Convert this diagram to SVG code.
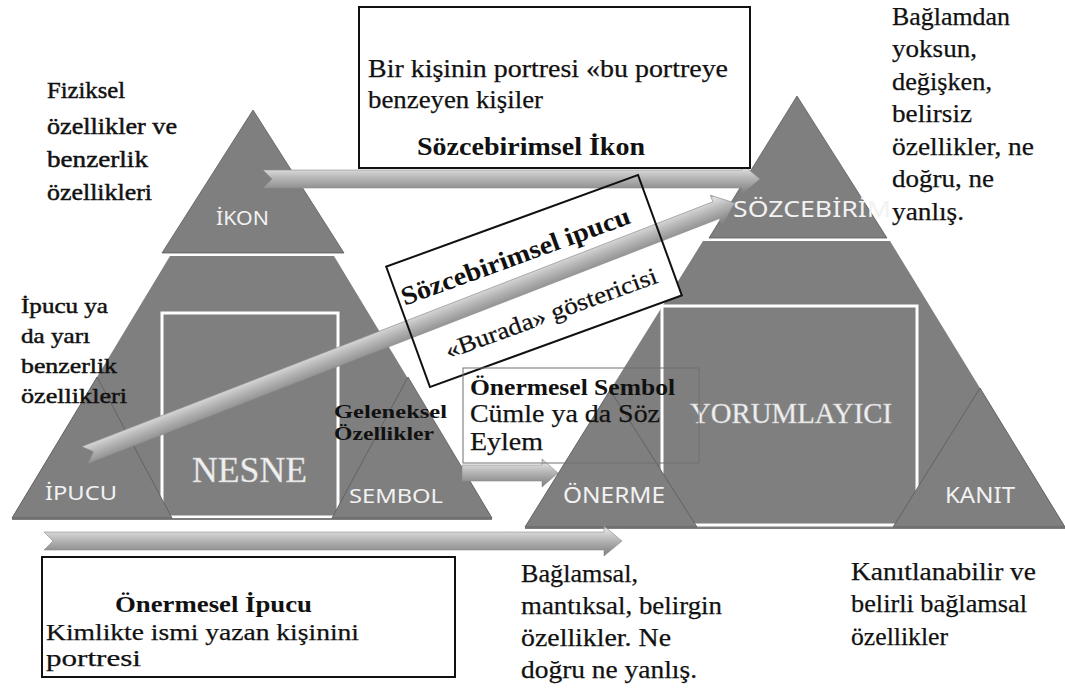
<svg xmlns="http://www.w3.org/2000/svg" width="1065" height="693" viewBox="0 0 1065 693">
<defs>
<linearGradient id="arrowGrad" x1="0" y1="0" x2="0" y2="1">
<stop offset="0" stop-color="#9a9a9a"/>
<stop offset="0.12" stop-color="#e2e2e2"/>
<stop offset="0.45" stop-color="#b8b8b8"/>
<stop offset="1" stop-color="#7c7c7c"/>
</linearGradient>
<style>
.seg{fill:#7f7f7f;stroke:#5c5c5c;stroke-width:0.8}
.base{fill:#7f7f7f;stroke:none}
.inner{fill:none;stroke:#ffffff;stroke-width:3}
.shadow{stroke:#555555;stroke-width:1.5}
.lab{fill:#f2f2f2}
.big{fill:#f0f0f0;stroke:#cfcfcf;stroke-width:0.4}
.txt{fill:#111111;stroke:#111111;stroke-width:0.25}
.hv{fill:#111111;stroke:#111111;stroke-width:0.45}
.bold{fill:#111111;font-weight:bold}
.box{fill:#ffffff;stroke:#111111;stroke-width:2}
.thin{fill:none;stroke:#707070;stroke-width:1}
.arrow{fill:url(#arrowGrad);stroke:#8a8a8a;stroke-width:0.6}
</style>
</defs>
<rect x="0" y="0" width="1065" height="693" fill="#ffffff"/>

<!-- left pyramid -->
<g id="node-nesne">
<polygon class="base" points="170,256 334,256 492,518 12,518"/>
<rect class="inner" x="162" y="313" width="176" height="204"/>
<line class="shadow" x1="12" y1="519" x2="492" y2="519"/>
<text class="big" font-family="Liberation Serif, Times New Roman, serif" x="192" y="482" font-size="36" textLength="115" lengthAdjust="spacingAndGlyphs">NESNE</text>
</g>
<g id="node-ikon" font-family="Noto Sans, Open Sans, sans-serif" font-size="20">
<polygon class="seg" points="253,110 344,253 162,253"/>
<text class="lab" x="216" y="225" textLength="53" lengthAdjust="spacingAndGlyphs">İKON</text>
</g>
<g id="node-ipucu" font-family="Noto Sans, Open Sans, sans-serif" font-size="20">
<polygon class="seg" points="97,377 172,518 12,518"/>
<text class="lab" x="45" y="500" textLength="72" lengthAdjust="spacingAndGlyphs">İPUCU</text>
</g>
<g id="node-sembol" font-family="Noto Sans, Open Sans, sans-serif" font-size="20">
<polygon class="seg" points="408,377 492,518 332,518"/>
<text class="lab" x="349" y="503" textLength="94" lengthAdjust="spacingAndGlyphs">SEMBOL</text>
</g>

<!-- right pyramid -->
<g id="node-yorumlayici">
<polygon class="base" points="703,241 890,241 1065,527 525,527"/>
<rect class="inner" x="662" y="306" width="255" height="219"/>
<line class="shadow" x1="525" y1="528" x2="1065" y2="528"/>
<text class="big" font-family="Liberation Serif, Times New Roman, serif" x="690" y="423" font-size="29" textLength="202" lengthAdjust="spacingAndGlyphs">YORUMLAYICI</text>
</g>
<g id="node-sozcebirim" font-family="Noto Sans, Open Sans, sans-serif" font-size="22">
<polygon class="seg" points="797,96 887,238 709,238"/>
<text class="lab" x="733" y="217" textLength="158" lengthAdjust="spacingAndGlyphs">SÖZCEBİRİM</text>
</g>
<g id="node-onerme" font-family="Noto Sans, Open Sans, sans-serif" font-size="22">
<polygon class="seg" points="610,390 697,527 525,527"/>
<text class="lab" x="563" y="503" textLength="102" lengthAdjust="spacingAndGlyphs">ÖNERME</text>
</g>
<g id="node-kanit" font-family="Noto Sans, Open Sans, sans-serif" font-size="22">
<polygon class="seg" points="980,388 1065,527 893,527"/>
<text class="lab" x="945" y="503" textLength="70" lengthAdjust="spacingAndGlyphs">KANIT</text>
</g>

<!-- rotated box background -->
<g id="node-sozcebirimsel-ipucu-bg">
<rect x="-134" y="-64" width="268" height="128" fill="#ffffff" transform="translate(534,281) rotate(-20)"/>
</g>

<!-- connectors -->
<g id="connectors">
<path class="arrow" transform="translate(263,179)" d="M0,-9 H479 V-15 L497,0 L479,15 V9 H0 L9,0 Z"/>
<path class="arrow" transform="translate(85,455) rotate(-21.2)" d="M0,-9 H677 V-16 L697,0 L677,16 V9 H0 L9,0 Z"/>
<path class="arrow" transform="translate(462,473)" d="M0,-8 H80 V-14 L96,0 L80,14 V8 H0 Z"/>
<path class="arrow" transform="translate(44,541)" d="M0,-9 H560 V-15 L578,0 L560,15 V9 H0 L9,0 Z"/>
</g>

<!-- boxes -->
<g id="node-sozcebirimsel-ikon" font-family="Liberation Serif, Times New Roman, serif">
<rect class="box" x="359" y="7" width="391" height="161"/>
<text class="txt" x="368" y="77" font-size="25" textLength="360" lengthAdjust="spacingAndGlyphs">Bir kişinin portresi «bu portreye</text>
<text class="txt" x="368" y="108" font-size="25" textLength="175" lengthAdjust="spacingAndGlyphs">benzeyen kişiler</text>
<text class="bold" x="417" y="155" font-size="25" textLength="228" lengthAdjust="spacingAndGlyphs">Sözcebirimsel İkon</text>
</g>

<g id="node-sozcebirimsel-ipucu" transform="translate(534,281) rotate(-20)" font-family="Liberation Serif, Times New Roman, serif">
<rect x="-134" y="-64" width="268" height="128" fill="none" stroke="#111111" stroke-width="2"/>
<text class="bold" x="-9" y="-21" font-size="26" text-anchor="middle" textLength="242" lengthAdjust="spacingAndGlyphs">Sözcebirimsel ipucu</text>
<text class="txt" x="5" y="44" font-size="24" text-anchor="middle" textLength="224" lengthAdjust="spacingAndGlyphs">«Burada» göstericisi</text>
</g>

<g id="node-onermesel-sembol" font-family="Liberation Serif, Times New Roman, serif">
<rect class="thin" x="463" y="368" width="236" height="95"/>
<text class="bold" x="470" y="395" font-size="23" textLength="205" lengthAdjust="spacingAndGlyphs">Önermesel Sembol</text>
<text class="txt" x="470" y="422" font-size="26" textLength="190" lengthAdjust="spacingAndGlyphs">Cümle ya da Söz</text>
<text class="txt" x="470" y="450" font-size="26" textLength="73" lengthAdjust="spacingAndGlyphs">Eylem</text>
</g>

<g id="node-onermesel-ipucu" font-family="Liberation Serif, Times New Roman, serif">
<rect class="box" x="42" y="557" width="413" height="120"/>
<text class="bold" x="115" y="612" font-size="24" textLength="197" lengthAdjust="spacingAndGlyphs">Önermesel İpucu</text>
<text class="txt" x="46" y="640" font-size="24" textLength="313" lengthAdjust="spacingAndGlyphs">Kimlikte ismi yazan kişinini</text>
<text class="txt" x="46" y="666" font-size="24" textLength="95" lengthAdjust="spacingAndGlyphs">portresi</text>
</g>

<!-- annotations -->
<g id="note-fiziksel" class="hv" font-family="Liberation Serif, Times New Roman, serif" font-size="23">
<text x="47" y="98" textLength="78" lengthAdjust="spacingAndGlyphs">Fiziksel</text>
<text x="47" y="134" textLength="130" lengthAdjust="spacingAndGlyphs">özellikler ve</text>
<text x="47" y="167" textLength="101" lengthAdjust="spacingAndGlyphs">benzerlik</text>
<text x="47" y="200" textLength="105" lengthAdjust="spacingAndGlyphs">özellikleri</text>
</g>
<g id="note-ipucu" class="hv" font-family="Liberation Serif, Times New Roman, serif" font-size="21">
<text x="21" y="313" textLength="87" lengthAdjust="spacingAndGlyphs">İpucu ya</text>
<text x="21" y="343" textLength="69" lengthAdjust="spacingAndGlyphs">da yarı</text>
<text x="21" y="373" textLength="96" lengthAdjust="spacingAndGlyphs">benzerlik</text>
<text x="21" y="403" textLength="106" lengthAdjust="spacingAndGlyphs">özellikleri</text>
</g>
<g id="note-geleneksel" class="bold" font-family="Liberation Serif, Times New Roman, serif" font-size="19">
<text x="334" y="418" textLength="113" lengthAdjust="spacingAndGlyphs">Geleneksel</text>
<text x="334" y="440" textLength="100" lengthAdjust="spacingAndGlyphs">Özellikler</text>
</g>
<g id="note-baglamdan" class="txt" font-family="Liberation Serif, Times New Roman, serif" font-size="26">
<text x="892" y="25" textLength="118" lengthAdjust="spacingAndGlyphs">Bağlamdan</text>
<text x="892" y="57" textLength="85" lengthAdjust="spacingAndGlyphs">yoksun,</text>
<text x="892" y="90" textLength="100" lengthAdjust="spacingAndGlyphs">değişken,</text>
<text x="892" y="122" textLength="80" lengthAdjust="spacingAndGlyphs">belirsiz</text>
<text x="892" y="155" textLength="142" lengthAdjust="spacingAndGlyphs">özellikler, ne</text>
<text x="892" y="187" textLength="102" lengthAdjust="spacingAndGlyphs">doğru, ne</text>
<text x="892" y="220" textLength="72" lengthAdjust="spacingAndGlyphs">yanlış.</text>
</g>
<g id="note-baglamsal" class="txt" font-family="Liberation Serif, Times New Roman, serif" font-size="26">
<text x="521" y="582" textLength="117" lengthAdjust="spacingAndGlyphs">Bağlamsal,</text>
<text x="521" y="614" textLength="201" lengthAdjust="spacingAndGlyphs">mantıksal, belirgin</text>
<text x="521" y="646" textLength="150" lengthAdjust="spacingAndGlyphs">özellikler. Ne</text>
<text x="521" y="678" textLength="176" lengthAdjust="spacingAndGlyphs">doğru ne yanlış.</text>
</g>
<g id="note-kanit" class="txt" font-family="Liberation Serif, Times New Roman, serif" font-size="26">
<text x="851" y="580" textLength="185" lengthAdjust="spacingAndGlyphs">Kanıtlanabilir ve</text>
<text x="851" y="612" textLength="176" lengthAdjust="spacingAndGlyphs">belirli bağlamsal</text>
<text x="851" y="645" textLength="97" lengthAdjust="spacingAndGlyphs">özellikler</text>
</g>
</svg>
